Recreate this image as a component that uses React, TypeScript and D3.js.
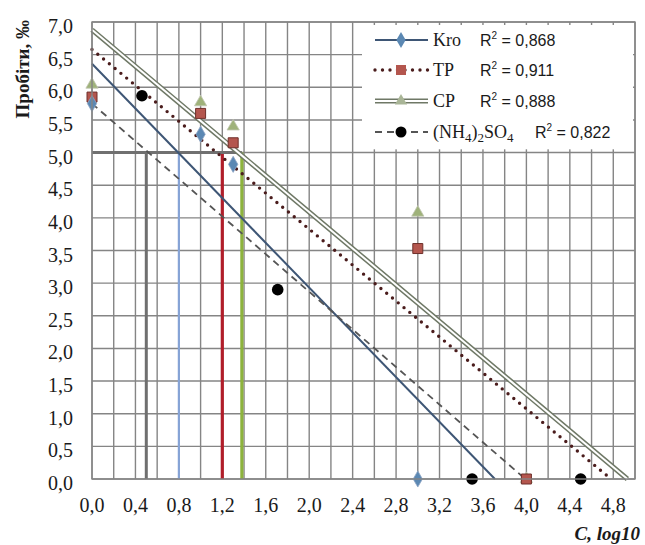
import React, { useEffect, useRef } from "react";
import * as d3 from "d3";

// measured points
const kroX = [0, 1.0, 1.3, 3.0];
const kroY = [5.75, 5.28, 4.82, 0];
const tpX = [0, 1.0, 1.3, 3.0, 4.0];
const tpY = [5.85, 5.6, 5.15, 3.53, 0];
const cpX = [0, 1.0, 1.3, 3.0, 4.0];
const cpY = [6.04, 5.77, 5.4, 4.08, 0];
const nh4X = [0.46, 1.71, 3.5, 4.5];
const nh4Y = [5.87, 2.9, 0, 0];

// trend lines (start / end)
const kroTrend = [[0, 6.36], [3.71, 0]];
const tpTrend = [[0, 6.58], [4.78, 0]];
const cpTrend = [[0, 6.88], [4.93, 0]];
const nh4Trend = [[0, 5.75], [3.99, 0]];

// probit 5 cut-offs
const probitLevel = 5.0;
const cutoffX = [0.5, 0.8, 1.2, 1.38];

const legendNames = ["Kro", "TP", "CP", "(NH4)2SO4"];
const legendR2 = ["0,868", "0,911", "0,888", "0,822"];

const xTicks = [0, 0.4, 0.8, 1.2, 1.6, 2.0, 2.4, 2.8, 3.2, 3.6, 4.0, 4.4, 4.8];
const xGrid = d3.range(0, 26).map((i) => i * 0.2);
const yTicks = d3.range(0, 15).map((i) => i * 0.5);

const width = 645;
const height = 545;
const margin = { top: 22, right: 10, bottom: 66, left: 92 };

const fmt = (v: number) => d3.format(".1f")(v).replace(".", ",");

export default function App() {
  const svgRef = useRef<SVGSVGElement>(null);

  useEffect(() => {
    const svg = d3.select(svgRef.current);
    svg.selectAll("*").remove();

    const x = d3.scaleLinear().domain([0, 5]).range([margin.left, width - margin.right]);
    const y = d3.scaleLinear().domain([0, 7]).range([height - margin.bottom, margin.top]);

    const gridColor = "#858585";

    // grid
    svg
      .append("g")
      .selectAll("line")
      .data(xGrid)
      .join("line")
      .attr("x1", (d) => x(d))
      .attr("x2", (d) => x(d))
      .attr("y1", y(0))
      .attr("y2", y(7))
      .attr("stroke", gridColor)
      .attr("stroke-width", 1.4);

    svg
      .append("g")
      .selectAll("line")
      .data(yTicks)
      .join("line")
      .attr("x1", x(0))
      .attr("x2", x(5))
      .attr("y1", (d) => y(d))
      .attr("y2", (d) => y(d))
      .attr("stroke", gridColor)
      .attr("stroke-width", 1.4);

    // legend background (covers grid)
    const lg = svg.append("g");
    lg.append("rect")
      .attr("x", 362)
      .attr("y", y(7) + 3)
      .attr("width", x(5) - 364)
      .attr("height", y(5.05) - y(7) - 3)
      .attr("fill", "white");

    // cutoff lines
    const cutColors = ["#6f6f6f", "#86a3d6", "#b01e2a", "#8db33d"];
    const cutWidths = [3, 2.2, 3.2, 3.2];
    svg
      .append("g")
      .selectAll("line")
      .data(cutoffX)
      .join("line")
      .attr("x1", (d) => x(d))
      .attr("x2", (d) => x(d))
      .attr("y1", y(0))
      .attr("y2", y(probitLevel))
      .attr("stroke", (d, i) => cutColors[i])
      .attr("stroke-width", (d, i) => cutWidths[i]);

    svg
      .append("line")
      .attr("x1", x(0))
      .attr("x2", x(cutoffX[3]))
      .attr("y1", y(probitLevel))
      .attr("y2", y(probitLevel))
      .attr("stroke", "#707070")
      .attr("stroke-width", 3);

    // trend lines
    const line = d3
      .line<number[]>()
      .x((d) => x(d[0]))
      .y((d) => y(d[1]));

    const drawKro = (g: any, pts: number[][]) =>
      g.append("path").attr("d", line(pts)).attr("fill", "none").attr("stroke", "#3e5675").attr("stroke-width", 2);
    const drawTP = (g: any, pts: number[][]) =>
      g
        .append("path")
        .attr("d", line(pts))
        .attr("fill", "none")
        .attr("stroke", "#4a1c1c")
        .attr("stroke-width", 3.4)
        .attr("stroke-linecap", "round")
        .attr("stroke-dasharray", "0 7.5");
    const drawCP = (g: any, pts: number[][]) => {
      g.append("path").attr("d", line(pts)).attr("fill", "none").attr("stroke", "#6f7866").attr("stroke-width", 5);
      g.append("path").attr("d", line(pts)).attr("fill", "none").attr("stroke", "#ffffff").attr("stroke-width", 2);
    };
    const drawNH4 = (g: any, pts: number[][]) =>
      g
        .append("path")
        .attr("d", line(pts))
        .attr("fill", "none")
        .attr("stroke", "#555555")
        .attr("stroke-width", 1.8)
        .attr("stroke-dasharray", "7 5");

    const tg = svg.append("g");
    drawKro(tg, kroTrend);
    drawNH4(tg, nh4Trend);
    drawTP(tg, tpTrend);
    drawCP(tg, cpTrend);

    // markers
    const tri = d3.symbol().type(d3.symbolTriangle).size(65)();
    const sq = d3.symbol().type(d3.symbolSquare).size(100)();
    const dia = d3.symbol().type(d3.symbolDiamond).size(75)();

    const mg = svg.append("g");
    mg.selectAll(".cp")
      .data(cpX)
      .join("path")
      .attr("class", "cp")
      .attr("d", tri)
      .attr("transform", (d, i) => `translate(${x(d)},${y(cpY[i])})`)
      .attr("fill", "#9fb27a")
      .attr("stroke", "#c2c7b2")
      .attr("stroke-width", 0.8);
    mg.selectAll(".tp")
      .data(tpX)
      .join("path")
      .attr("class", "tp")
      .attr("d", sq)
      .attr("transform", (d, i) => `translate(${x(d)},${y(tpY[i])})`)
      .attr("fill", "#b4564e")
      .attr("stroke", "#6e2f2a")
      .attr("stroke-width", 1);
    mg.selectAll(".kro")
      .data(kroX)
      .join("path")
      .attr("class", "kro")
      .attr("d", dia)
      .attr("transform", (d, i) => `translate(${x(d)},${y(kroY[i])})`)
      .attr("fill", "#5b88b3")
      .attr("stroke", "#8ea5c4")
      .attr("stroke-width", 0.8);
    mg.selectAll(".nh4")
      .data(nh4X)
      .join("circle")
      .attr("class", "nh4")
      .attr("cx", (d) => x(d))
      .attr("cy", (d, i) => y(nh4Y[i]))
      .attr("r", 5.8)
      .attr("fill", "#000");

    // plot border
    svg
      .append("rect")
      .attr("x", x(0))
      .attr("y", y(7))
      .attr("width", x(5) - x(0))
      .attr("height", y(0) - y(7))
      .attr("fill", "none")
      .attr("stroke", gridColor)
      .attr("stroke-width", 1.4);

    // axes labels
    const serif = "Liberation Serif, Times New Roman, serif";
    svg
      .append("g")
      .selectAll("text")
      .data(xTicks)
      .join("text")
      .attr("x", (d) => x(d))
      .attr("y", y(0) + 33)
      .attr("text-anchor", "middle")
      .style("font-family", serif)
      .style("font-size", "20px")
      .attr("fill", "#1a1a1a")
      .text((d) => fmt(d));

    svg
      .append("g")
      .selectAll("text")
      .data(yTicks)
      .join("text")
      .attr("x", 73)
      .attr("y", (d) => y(d) + 5)
      .attr("dy", "0.3em")
      .attr("text-anchor", "end")
      .style("font-family", serif)
      .style("font-size", "20px")
      .attr("fill", "#1a1a1a")
      .text((d) => fmt(d));

    svg
      .append("text")
      .attr("transform", `translate(29, ${y(7) - 2}) rotate(-90)`)
      .attr("text-anchor", "end")
      .style("font-family", serif)
      .style("font-weight", "bold")
      .style("font-size", "19px")
      .attr("fill", "#1a1a1a")
      .text("Пробіти, ‰");

    svg
      .append("text")
      .attr("x", 640)
      .attr("y", 540)
      .attr("text-anchor", "end")
      .style("font-family", serif)
      .style("font-weight", "bold")
      .style("font-style", "italic")
      .style("font-size", "19px")
      .attr("fill", "#1a1a1a")
      .text("C, log10");

    // legend entries
    const rowY = [40, 70, 101, 132];
    const drawers = [drawKro, drawTP, drawCP, drawNH4];
    const syms = [dia, sq, tri, null];
    const symFill = ["#5b88b3", "#b4564e", "#a9b597", "#000"];
    rowY.forEach((ry, i) => {
      const g = lg.append("g");
      drawers[i](g, [
        [x.invert(375), y.invert(ry)],
        [x.invert(428), y.invert(ry)],
      ]);
      if (syms[i]) {
        g.append("path").attr("d", syms[i]).attr("transform", `translate(401,${ry})`).attr("fill", symFill[i]);
      } else {
        g.append("circle").attr("cx", 401).attr("cy", ry).attr("r", 5.5).attr("fill", "#000");
      }
      const t = g
        .append("text")
        .attr("x", 433)
        .attr("y", ry + 6)
        .style("font-family", serif)
        .style("font-size", "18px")
        .attr("fill", "#1a1a1a");
      if (i < 3) {
        t.text(legendNames[i]);
      } else {
        t.append("tspan").text("(NH");
        t.append("tspan").style("font-size", "13px").attr("dy", 4).text("4");
        t.append("tspan").attr("dy", -4).text(")");
        t.append("tspan").style("font-size", "13px").attr("dy", 4).text("2");
        t.append("tspan").attr("dy", -4).text("SO");
        t.append("tspan").style("font-size", "13px").attr("dy", 4).text("4");
      }
      const r = g
        .append("text")
        .attr("x", i < 3 ? 480 : 535)
        .attr("y", ry + 6)
        .style("font-family", "Liberation Sans, Arial, sans-serif")
        .style("font-size", "16px")
        .attr("fill", "#1a1a1a");
      r.append("tspan").text("R");
      r.append("tspan").style("font-size", "10px").attr("dy", -7).text("2");
      r.append("tspan").attr("dy", 7).text(" = " + legendR2[i]);
    });
  }, []);

  return (
    <svg
      ref={svgRef}
      width={width}
      height={height}
      style={{ position: "absolute", left: 0, top: 0, background: "white" }}
    />
  );
}
